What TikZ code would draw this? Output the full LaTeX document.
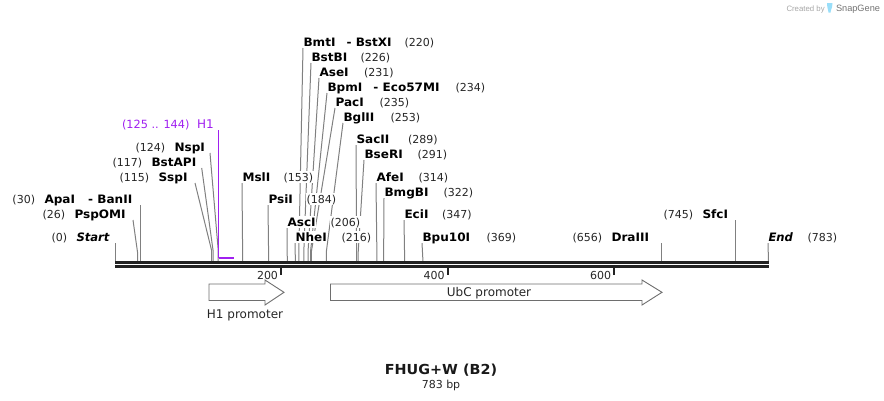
\documentclass[tikz,border=0pt]{standalone}
\usepackage{fontspec}
\setmainfont[BoldFeatures={FakeStretch=1.04}]{DejaVu Sans}
\newfontfamily\logofont{Liberation Sans}
\usetikzlibrary{backgrounds}
\definecolor{linegray}{HTML}{808080}
\definecolor{arrowgray}{HTML}{6E6E6E}
\definecolor{backbone}{HTML}{222222}
\definecolor{feat}{HTML}{A020F0}
\tikzset{
  every node/.style={inner sep=0pt,outer sep=0pt},
  sitename/.style={anchor=west,fill=white,inner xsep=0.5pt,text height=10pt,text depth=2pt,font=\fontsize{11.6}{13}\selectfont\bfseries},
  endname/.style={sitename,font=\fontsize{11.6}{13}\selectfont\bfseries\itshape},
  sitepos/.style={anchor=west,fill=white,inner xsep=0.5pt,text height=10pt,text depth=2pt,text=black!85,font=\fontsize{11}{13}\selectfont},
  conn/.style={draw=linegray,line width=1pt},
  tick/.style={draw=backbone,line width=1.8pt},
  ticklabel/.style={anchor=east,font=\fontsize{11}{13}\selectfont,text=black!85},
  promoter/.style={draw=arrowgray,line width=0.9pt,fill=white},
  featlabel/.style={anchor=west,text=feat,text height=10pt,text depth=2pt,font=\fontsize{11.3}{13}\selectfont},
  plain/.style={font=\fontsize{12}{14}\selectfont,text=black!85},
}
\begin{document}
\begin{tikzpicture}[x=1pt,y=-1pt]
\useasboundingbox (0,0) rectangle (884,400);
% labels right of their cut sites
\node[sitename] (bmt) at (303,42) {BmtI\hspace{3pt}\,\, - BstXI};
\node[sitepos] at (404,42) {(220)};
\node[sitename] (bstb) at (311,57) {BstBI};
\node[sitepos] at (360,57) {(226)};
\node[sitename] (ase) at (319,72) {AseI};
\node[sitepos] at (363.5,72) {(231)};
\node[sitename] (bpm) at (327,87) {BpmI\hspace{3pt}\,\, - Eco57MI};
\node[sitepos] at (455,87) {(234)};
\node[sitename] (pac) at (335,102) {PacI};
\node[sitepos] at (379,102) {(235)};
\node[sitename] (bgl) at (343,117) {BglII};
\node[sitepos] at (390,117) {(253)};
\node[sitename] (sac) at (356,139) {SacII};
\node[sitepos] at (407.5,139) {(289)};
\node[sitename] (bse) at (364,154) {BseRI};
\node[sitepos] at (417,154) {(291)};
\node[sitename] (afe) at (376,177) {AfeI};
\node[sitepos] at (418,177) {(314)};
\node[sitename] (bmg) at (384,192) {BmgBI};
\node[sitepos] at (443,192) {(322)};
\node[sitename] (eci) at (404,214) {EciI};
\node[sitepos] at (441.5,214) {(347)};
\node[sitename] (bpu) at (422,237) {Bpu10I};
\node[sitepos] at (486,237) {(369)};
\node[sitename] (msl) at (242,177) {MslI};
\node[sitepos] at (283,177) {(153)};
\node[sitename] (psi) at (268,199) {PsiI};
\node[sitepos] at (306,199) {(184)};
\node[sitename] (asc) at (287,222) {AscI};
\node[sitepos] at (330,222) {(206)};
\node[sitename] (nhe) at (295,237) {NheI};
\node[sitepos] at (341,237) {(216)};
\node[endname] (endlab) at (768,237) {End};
\node[sitepos] at (807,237) {(783)};
% labels left of their cut sites
\node[sitepos] at (51,237) {(0)};
\node[endname] (startlab) at (76,237) {Start};
\node[sitepos] at (42,214) {(26)};
\node[sitename] (psp) at (74,214) {PspOMI};
\node[sitepos] at (12,199) {(30)};
\node[sitename] (apa) at (44,199) {ApaI\hspace{5pt}\,\, - BanII};
\node[sitepos] at (119,177) {(115)};
\node[sitename] (ssp) at (158,177) {SspI};
\node[sitepos] at (112,162) {(117)};
\node[sitename] (bsta) at (151,162) {BstAPI};
\node[sitepos] at (135,147) {(124)};
\node[sitename] (nsp) at (174,147) {NspI};
\node[sitepos] at (572,237) {(656)};
\node[sitename] (dra) at (611,237) {DraIII};
\node[sitepos] at (663,214) {(745)};
\node[sitename] (sfc) at (702,214) {SfcI};
% feature
\node[featlabel] at (122,124) {(125 .. 144)};
\node[featlabel,font=\fontsize{12}{14}\selectfont] (h1) at (197,124) {H1};
\coordinate (h1top) at (218.5,130);
\coordinate (h1corner) at (218.5,257.7);
\coordinate (h1end) at (234,257.7);
% backbone points
\coordinate (bbl) at (115,262.4);
\coordinate (bbr) at (769,262.4);
\coordinate (bbl2) at (115,266.5);
\coordinate (bbr2) at (769,266.5);
\begin{scope}[on background layer]
\draw[conn] (startlab.south -| 115.5,0) -- (115.5,262);
\draw[conn] (psp.south -| 133,0) -- (137.5,252) -- (137.5,262);
\draw[conn] (apa.south -| 140.5,0) -- (140.5,262);
\draw[conn] (ssp.south -| 195,0) -- (211.5,250) -- (211.5,262);
\draw[conn] (bsta.south -| 201.7,0) -- (213,250) -- (213,262);
\draw[conn] (nsp.south -| 210,0) -- (218.2,250) -- (218.2,262);
\draw[conn] (msl.south west) -- (242.7,262);
\draw[conn] (psi.south west) -- (268.7,262);
\draw[conn] (asc.south west) -- (287.3,262);
\draw[conn] (nhe.south west) -- (295.4,262);
\draw[conn] (bmt.south west) -- (298.8,252) -- (298.8,262);
\draw[conn] (bstb.south west) -- (303.8,252) -- (303.8,262);
\draw[conn] (ase.south west) -- (308,252) -- (308,262);
\draw[conn] (bpm.south west) -- (310.5,252) -- (310.5,262);
\draw[conn] (pac.south west) -- (311.3,252) -- (311.3,262);
\draw[conn] (bgl.south west) -- (326.3,252) -- (326.3,262);
\draw[conn] (sac.south west) -- (356.6,252) -- (356.6,262);
\draw[conn] (bse.south west) -- (358.2,252) -- (358.2,262);
\draw[conn] (afe.south west) -- (377,262);
\draw[conn] (bmg.south west) -- (383.6,262);
\draw[conn] (eci.south west) -- (404.7,262);
\draw[conn] (bpu.south west) -- (423,262);
\draw[conn] (dra.south -| 661.5,0) -- (661.5,262);
\draw[conn] (sfc.south -| 735.5,0) -- (735.5,262);
\draw[conn] (endlab.south west) -- (768.5,262);
\end{scope}
\draw[draw=feat,line width=1.3pt] (h1top) -- (h1corner);
\draw[draw=feat,line width=2pt] (h1corner) -- (h1end);
% backbone
\draw[draw=backbone,line width=2.7pt] (bbl) -- (bbr);
\draw[draw=backbone,line width=3pt] (bbl2) -- (bbr2);
% ticks
\coordinate (t200) at (281,268);
\coordinate (t400) at (447.7,268);
\coordinate (t600) at (614,268);
\draw[tick] (t200) -- ++(0,7);
\draw[tick] (t400) -- ++(0,7);
\draw[tick] (t600) -- ++(0,7);
\node[ticklabel] at (278,275) {200};
\node[ticklabel] at (444.5,275) {400};
\node[ticklabel] at (611,275) {600};
% promoters
\path[promoter] (209,284) -- (265,284) -- (265,280) -- (284,292.3) -- (265,305) -- (265,300.5) -- (209,300.5) -- cycle;
\path[promoter] (330.5,284) -- (642,284) -- (642,280) -- (662,292.3) -- (642,305) -- (642,300.5) -- (330.5,300.5) -- cycle;
\node[plain] (ubc) at (489,293) {UbC promoter};
\node[plain] (h1p) at (245,315) {H1 promoter};
% title
\node[font=\fontsize{13.8}{15}\selectfont\bfseries,text=black!90] (title) at (441,370.5) {FHUG+W (B2)};
\node[font=\fontsize{11}{12}\selectfont,text=black!85] (size) at (441,385.5) {783 bp};
% logo
\node[anchor=west,text=black!35,font=\logofont\fontsize{7.8}{9}\selectfont] (created) at (786.5,9) {Created by};
\fill[cyan!40!white] (827,3) -- (832.5,3) .. controls (833.5,6) and (831,8) .. (830.5,12.5) -- (828.5,12.5) .. controls (828,9) and (827,7) .. (827,3) -- cycle;
\node[anchor=west,text=black!55,font=\logofont\fontsize{9.2}{11}\selectfont] (snap) at (836,9.5) {SnapGene};
\end{tikzpicture}
\end{document}
